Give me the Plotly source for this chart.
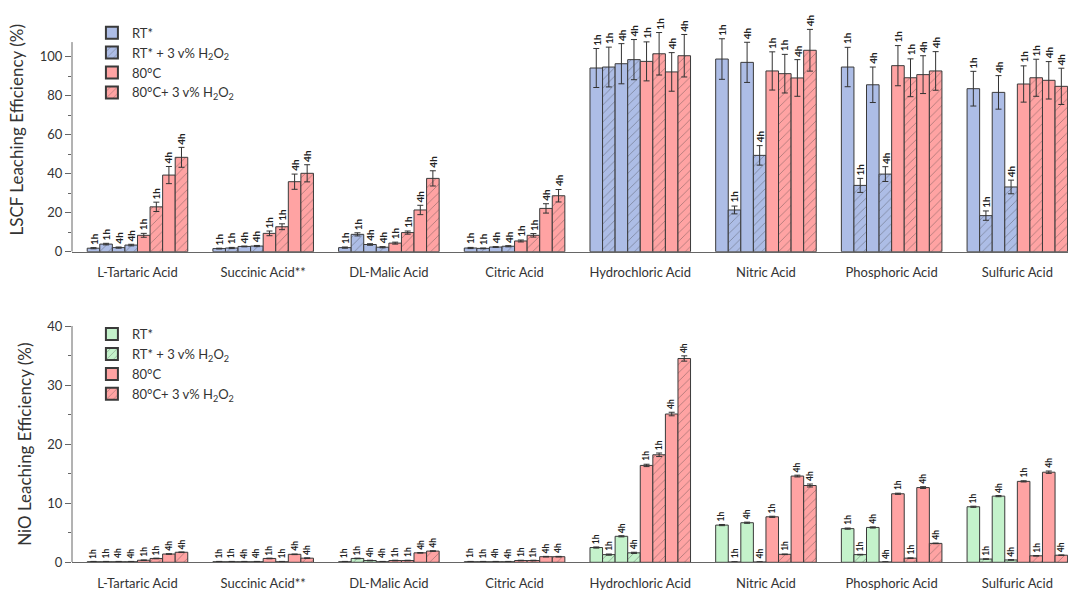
import plotly.graph_objects as go

# ---- data -------------------------------------------------------------
acids = ["L-Tartaric Acid", "Succinic Acid**", "DL-Malic Acid", "Citric Acid",
         "Hydrochloric Acid", "Nitric Acid", "Phosphoric Acid", "Sulfuric Acid"]

# LSCF leaching efficiency (%)
lscf_rt_1h = [1.8, 1.6, 2.1, 1.9, 94.2, 98.8, 94.7, 83.6]
lscf_rt_h2o2_1h = [3.9, 1.9, 8.9, 1.7, 94.7, 21.4, 34.0, 18.5]
lscf_rt_4h = [2.1, 2.7, 3.7, 2.4, 96.4, 97.1, 85.6, 81.7]
lscf_rt_h2o2_4h = [3.4, 2.9, 2.3, 2.8, 98.5, 49.4, 39.8, 33.2]
lscf_80_1h = [8.4, 9.4, 4.4, 5.5, 97.6, 92.7, 95.4, 86.0]
lscf_80_h2o2_1h = [23.0, 12.8, 9.8, 8.4, 101.5, 91.3, 89.2, 89.2]
lscf_80_4h = [39.3, 35.9, 21.4, 22.2, 92.2, 89.1, 90.8, 87.9]
lscf_80_h2o2_4h = [48.4, 40.2, 37.6, 28.7, 100.5, 103.3, 92.7, 84.8]

lscf_err_rt_1h = [0.3, 0.2, 0.3, 0.3, 10.0, 10.4, 10.1, 8.9]
lscf_err_rt_h2o2_1h = [0.4, 0.3, 0.8, 0.2, 10.2, 2.0, 3.6, 2.4]
lscf_err_rt_4h = [0.3, 0.2, 0.4, 0.2, 10.3, 10.3, 9.1, 8.6]
lscf_err_rt_h2o2_4h = [0.4, 0.3, 0.3, 0.3, 10.3, 5.0, 3.8, 3.5]
lscf_err_80_1h = [1.0, 1.2, 0.5, 0.5, 10.0, 9.8, 10.3, 9.3]
lscf_err_80_h2o2_1h = [2.4, 1.5, 0.8, 0.9, 10.9, 9.9, 9.7, 9.5]
lscf_err_80_4h = [4.4, 3.9, 2.4, 2.4, 9.9, 9.4, 9.7, 9.6]
lscf_err_80_h2o2_4h = [5.1, 4.4, 3.9, 3.2, 10.9, 10.7, 9.9, 9.3]

# NiO leaching efficiency (%)
nio_rt_1h = [0.1, 0.1, 0.1, 0.1, 2.5, 6.3, 5.7, 9.4]
nio_rt_h2o2_1h = [0.1, 0.1, 0.65, 0.1, 1.3, 0.05, 1.3, 0.55]
nio_rt_4h = [0.1, 0.1, 0.3, 0.1, 4.4, 6.7, 5.9, 11.2]
nio_rt_h2o2_4h = [0.1, 0.1, 0.1, 0.1, 1.6, 0.05, 0.05, 0.4]
nio_80_1h = [0.35, 0.65, 0.3, 0.3, 16.4, 7.7, 11.6, 13.7]
nio_80_h2o2_1h = [0.65, 0.1, 0.3, 0.3, 18.2, 1.35, 0.7, 1.1]
nio_80_4h = [1.4, 1.35, 1.6, 0.95, 25.1, 14.6, 12.65, 15.25]
nio_80_h2o2_4h = [1.7, 0.7, 1.9, 0.95, 34.5, 13.0, 3.2, 1.2]

nio_err_rt_1h = [0.05, 0.05, 0.05, 0.05, 0.1, 0.1, 0.1, 0.1]
nio_err_rt_h2o2_1h = [0.05, 0.05, 0.05, 0.05, 0.1, 0.05, 0.05, 0.05]
nio_err_rt_4h = [0.05, 0.05, 0.05, 0.05, 0.1, 0.1, 0.1, 0.1]
nio_err_rt_h2o2_4h = [0.05, 0.05, 0.05, 0.05, 0.1, 0.05, 0.05, 0.05]
nio_err_80_1h = [0.05, 0.05, 0.05, 0.05, 0.2, 0.1, 0.1, 0.1]
nio_err_80_h2o2_1h = [0.05, 0.05, 0.05, 0.05, 0.3, 0.05, 0.05, 0.05]
nio_err_80_4h = [0.05, 0.05, 0.05, 0.05, 0.3, 0.15, 0.15, 0.2]
nio_err_80_h2o2_4h = [0.05, 0.05, 0.05, 0.05, 0.45, 0.25, 0.05, 0.05]

bar_times = ["1h", "1h", "4h", "4h", "1h", "1h", "4h", "4h"]
legend_names = ["RT*", "RT* + 3 v% H<sub>2</sub>O<sub>2</sub>", "80°C",
                "80°C+ 3 v% H<sub>2</sub>O<sub>2</sub>"]

# axis extents: the drawn spine stops at these values, the view reaches a bit
# higher so the time labels above tall bars stay visible
lscf_axis_top = 107.5
lscf_view_top = 125
nio_axis_top = 40
nio_view_top = 40

# ---- styling ----------------------------------------------------------
FONT = "Lato"
BLUE = "#adbde6"
GREEN = "#c4f2cb"
PINK = "#ffa3a3"
EDGE = "#3a3a3a"
AXIS = "#666666"
BAR_W = 0.1

lscf_series = [
    (lscf_rt_1h, lscf_err_rt_1h), (lscf_rt_h2o2_1h, lscf_err_rt_h2o2_1h),
    (lscf_rt_4h, lscf_err_rt_4h), (lscf_rt_h2o2_4h, lscf_err_rt_h2o2_4h),
    (lscf_80_1h, lscf_err_80_1h), (lscf_80_h2o2_1h, lscf_err_80_h2o2_1h),
    (lscf_80_4h, lscf_err_80_4h), (lscf_80_h2o2_4h, lscf_err_80_h2o2_4h),
]
nio_series = [
    (nio_rt_1h, nio_err_rt_1h), (nio_rt_h2o2_1h, nio_err_rt_h2o2_1h),
    (nio_rt_4h, nio_err_rt_4h), (nio_rt_h2o2_4h, nio_err_rt_h2o2_4h),
    (nio_80_1h, nio_err_80_1h), (nio_80_h2o2_1h, nio_err_80_h2o2_1h),
    (nio_80_4h, nio_err_80_4h), (nio_80_h2o2_4h, nio_err_80_h2o2_4h),
]

fig = go.Figure()
annotations = []
shapes = []


def add_panel(series, rt_color, xref, yref, legend, label_size):
    for k, (vals, errs) in enumerate(series):
        hatched = k % 2 == 1
        rt = k < 4
        color = rt_color if rt else PINK
        legend_idx = (0 if rt else 2) + (1 if hatched else 0)
        show = k in (0, 1, 4, 5)
        offset = (k - 3.5) * BAR_W
        xs = [i + offset for i in range(len(acids))]
        pattern = dict(shape="/" if hatched else "", fgcolor="#3c3c3c",
                       bgcolor=color, size=6, solidity=0.12)
        fig.add_trace(go.Bar(
            x=xs, y=vals, width=BAR_W,
            name=legend_names[legend_idx],
            legendgroup=f"{legend}-{legend_idx}",
            showlegend=show, legend=legend,
            marker=dict(color=color, line=dict(color=EDGE, width=1),
                        pattern=pattern),
            error_y=dict(type="data", array=errs, visible=True,
                         color="#333333", thickness=1, width=3),
            xaxis=xref, yaxis=yref,
        ))
        for x, v, e in zip(xs, vals, errs):
            annotations.append(dict(
                x=x, y=v + e, xref=xref, yref=yref,
                text=f"<b>{bar_times[k]}</b>", textangle=-90,
                showarrow=False, xanchor="center", yanchor="bottom",
                yshift=1, font=dict(family=FONT, size=label_size, color="#222222"),
            ))


add_panel(lscf_series, BLUE, "x", "y", "legend", 10)
add_panel(nio_series, GREEN, "x2", "y2", "legend2", 8.5)

# y spines drawn only up to the axis top
for xr, yr, top in (("x", "y", lscf_axis_top), ("x2", "y2", nio_axis_top)):
    shapes.append(dict(type="line", xref=f"{xr} domain", yref=yr,
                       x0=0, x1=0, y0=0, y1=top,
                       line=dict(color=AXIS, width=1)))

x_range = [-0.521, 7.403]
xaxis_common = dict(
    range=x_range, tickmode="array", tickvals=list(range(len(acids))),
    ticktext=acids, showline=True, linecolor=AXIS, linewidth=1,
    ticks="", showgrid=False, zeroline=False, ticklabelstandoff=9,
    automargin=False,
    tickfont=dict(family=FONT, size=13, color="#333333"),
)
yaxis_common = dict(
    showline=False, ticks="outside", automargin=False,
    ticklen=6, tickcolor=AXIS, showgrid=False, zeroline=False,
    tickfont=dict(family=FONT, size=13, color="#333333"),
)

# pixel scale: LSCF 1.95 px per %, baseline at y=251.7 of 591
lscf_bottom = 1 - 251.7 / 591
lscf_top = lscf_bottom + lscf_view_top * 1.95 / 591
nio_bottom = 1 - 562.3 / 591
nio_top = 1 - 326 / 591

fig.update_layout(
    width=1068, height=591,
    margin=dict(l=72, r=0, t=0, b=0, autoexpand=False),
    paper_bgcolor="white", plot_bgcolor="white",
    barmode="overlay",
    font=dict(family=FONT, color="#333333"),
    xaxis=dict(**xaxis_common, anchor="y", domain=[0, 1]),
    xaxis2=dict(**xaxis_common, anchor="y2", domain=[0, 1]),
    yaxis=dict(**yaxis_common, anchor="x", domain=[lscf_bottom, lscf_top],
               range=[0, lscf_view_top], tickvals=[0, 20, 40, 60, 80, 100],
               minor=dict(tickvals=[10, 30, 50, 70, 90], ticks="outside",
                          ticklen=3, tickcolor=AXIS),
               title=dict(text="LSCF Leaching Efficiency (%)",
                          font=dict(family=FONT, size=17, color="#333333"),
                          standoff=11)),
    yaxis2=dict(**yaxis_common, anchor="x2", domain=[nio_bottom, nio_top],
                range=[0, nio_view_top], tickvals=[0, 10, 20, 30, 40],
                minor=dict(tickvals=[5, 15, 25, 35], ticks="outside",
                           ticklen=3, tickcolor=AXIS),
                title=dict(text="NiO Leaching Efficiency (%)",
                           font=dict(family=FONT, size=17, color="#333333"),
                           standoff=11)),
    legend=dict(x=0.02, y=0.97, xanchor="left", yanchor="top",
                bgcolor="rgba(0,0,0,0)", traceorder="normal",
                font=dict(family=FONT, size=13, color="#333333"),
                tracegroupgap=0, itemsizing="constant"),
    legend2=dict(x=0.02, y=0.46, xanchor="left", yanchor="top",
                 bgcolor="rgba(0,0,0,0)", traceorder="normal",
                 font=dict(family=FONT, size=13, color="#333333"),
                 tracegroupgap=0, itemsizing="constant"),
    annotations=annotations,
    shapes=shapes,
)

fig.write_html("out.html")
